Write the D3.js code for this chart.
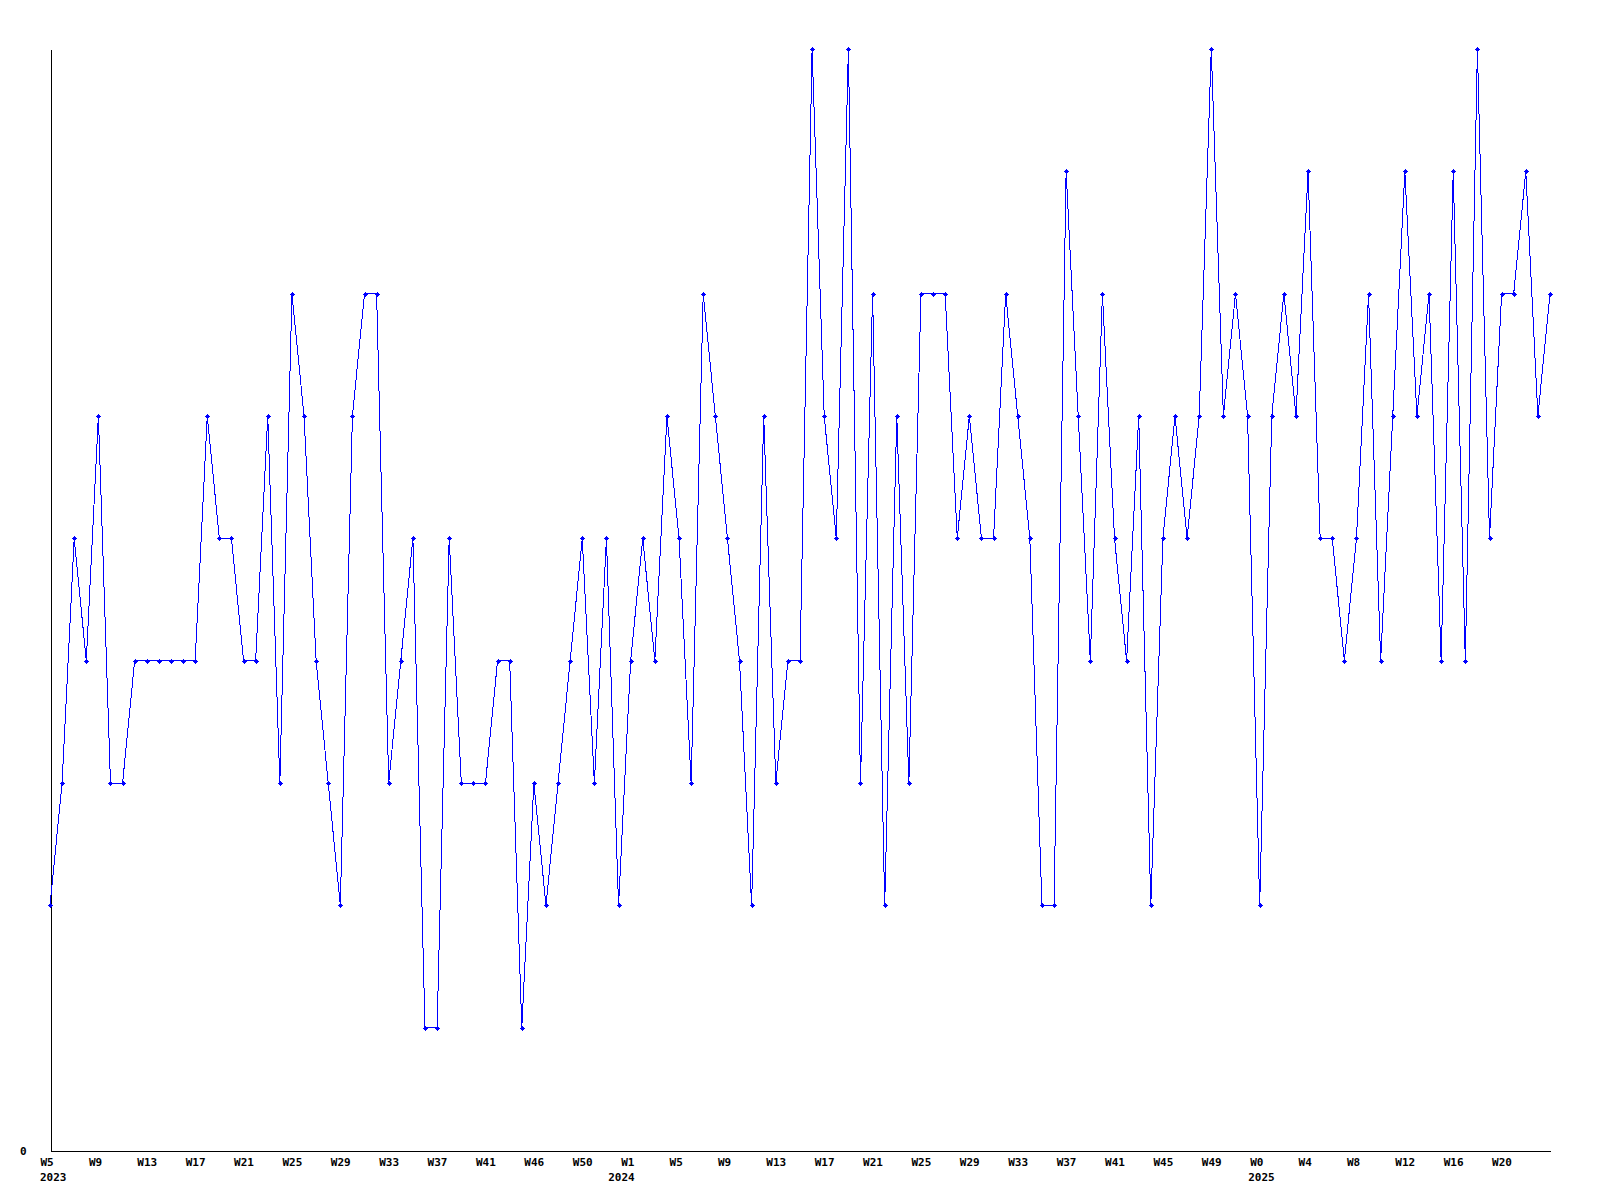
<!DOCTYPE html>
<html>
<head>
<meta charset="utf-8">
<script src="https://cdn.jsdelivr.net/npm/d3@7"></script>
<style>
  html, body { margin: 0; padding: 0; background: #fff; }
  svg { display: block; }
  text { font-family: "DejaVu Sans Mono", monospace; font-weight: bold; font-size: 11px; fill: #000; }
</style>
</head>
<body>
<svg id="chart" width="1600" height="1200"></svg>
<script>
// Weekly values, 2023 W5 .. 2025 W24
const values = [
  2,3,5,4,6,3,3,4,4,4,
  4,4,4,6,5,5,4,4,6,3,
  7,6,4,3,2,6,7,7,3,4,
  5,1,1,5,3,3,3,4,4,1,
  3,2,3,4,5,3,5,2,4,5,
  4,6,5,3,7,6,5,4,2,6,
  3,4,4,9,6,5,9,3,7,2,
  6,3,7,7,7,5,6,5,5,7,
  6,5,2,2,8,6,4,7,5,4,
  6,2,5,6,5,6,9,6,7,6,
  2,6,7,6,8,5,5,4,5,7,
  4,6,8,6,7,4,8,4,9,5,
  7,7,8,6,7
];
// Tick labels, one every 4 points
const tickLabels = [
  "W5","W9","W13","W17","W21","W25","W29","W33","W37","W41","W46","W50",
  "W1","W5","W9","W13","W17","W21","W25","W29","W33","W37","W41","W45","W49",
  "W0","W4","W8","W12","W16","W20"
];
// Year labels shown under the first tick of each year
const yearLabels = ["2023","2024","2025"];
const yearTickIndex = [0, 12, 25];
const yMax = 9;

(function () {
const svg = d3.select("#chart");
const mLeft = 50, mRight = 1550, mTop = 49, mBottom = 1150;
const labelShift = -10.5;              // labels start slightly left of their tick
const yearShift = [-10.5, -23, -12];   // horizontal nudge of each year label

const x = d3.scaleLinear().domain([0, values.length - 1]).range([mLeft, mRight]);
const y = d3.scaleLinear().domain([0, yMax]).range([mBottom, mTop]);

const tickIdx = tickLabels.map((_, i) => i * 4);

// X axis
const gx = svg.append("g").attr("transform", `translate(0.5,${mBottom + 0.5})`)
  .call(d3.axisBottom(x).tickValues(tickIdx).tickSize(0).tickSizeOuter(0).tickPadding(8)
    .tickFormat((d, i) => tickLabels[i]));
gx.select(".domain").attr("stroke", "#000").attr("shape-rendering", "crispEdges");
gx.selectAll(".tick text")
  .attr("font-family", null).attr("font-size", null).attr("font-weight", null)
  .attr("text-anchor", "start").attr("dx", labelShift).attr("dy", "0.71em");

// Year labels
svg.append("g").selectAll("text").data(yearLabels).join("text")
  .attr("x", (d, i) => x(yearTickIndex[i] * 4) + 0.5 + yearShift[i])
  .attr("y", mBottom + 31)
  .attr("text-anchor", "start")
  .text(d => d);

// Y axis
const gy = svg.append("g").attr("transform", `translate(${mLeft + 0.5},0.5)`)
  .call(d3.axisLeft(y).tickValues([0]).tickSize(0).tickSizeOuter(0).tickPadding(24)
    .tickFormat(d3.format("d")));
gy.select(".domain").attr("stroke", "#000").attr("shape-rendering", "crispEdges");
gy.selectAll(".tick text").attr("font-family", null).attr("font-size", null).attr("font-weight", null);

// Line
const line = d3.line().x((d, i) => x(i)).y(d => y(d));
svg.append("path").datum(values)
  .attr("d", line)
  .attr("fill", "none")
  .attr("stroke", "#0000ff")
  .attr("stroke-width", 1)
  .attr("shape-rendering", "crispEdges");

// Markers (small crosses)
const marker = "M-2.5,-0.5h5v1h-5zM-0.5,-2.5h1v5h-1zM-1.5,-1.5h3v3h-3z";
svg.append("g").selectAll("path").data(values).join("path")
  .attr("transform", (d, i) => `translate(${Math.round(x(i)) + 0.5},${Math.round(y(d)) + 0.5})`)
  .attr("d", marker)
  .attr("fill", "#0000ff")
  .attr("shape-rendering", "crispEdges");
})();
</script>
</body>
</html>
